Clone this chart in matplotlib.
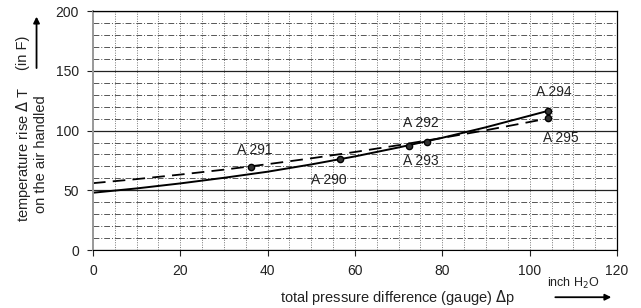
import matplotlib
matplotlib.use("Agg")
import matplotlib.pyplot as plt
from matplotlib.ticker import MultipleLocator

plt.rcParams['font.family'] = ['Liberation Sans', 'DejaVu Sans']

# measured points (pressure difference, temperature rise)
point_names = ['A 290', 'A 291', 'A 292', 'A 293', 'A 294', 'A 295']
point_dp = [56.5, 36.1, 72.4, 76.4, 104.3, 104.3]
point_dt = [76.0, 69.7, 87.0, 90.6, 116.6, 110.2]

# label positions for the points
label_x = [50.0, 33.0, 71.0, 71.0, 101.5, 103.0]
label_y = [59.0, 84.0, 106.5, 74.5, 132.5, 94.0]

# trend curves
curve_dp = [0, 10, 20, 30, 40, 50, 60, 70, 80, 90, 104.3]
solid_dt = [48.0, 51.6, 55.8, 60.5, 65.6, 71.7, 78.4, 85.9, 94.0, 102.8, 116.6]
dashed_dt = [56.0, 59.4, 63.2, 67.3, 71.9, 76.8, 82.1, 87.8, 93.9, 100.3, 110.2]

fig = plt.figure(figsize=(6.41, 3.08), dpi=100)
ax = fig.add_axes([0.145, 0.188, 0.8176, 0.776])

ax.set_xlim(0, 120)
ax.set_ylim(0, 200)
ax.xaxis.set_major_locator(MultipleLocator(20))
ax.yaxis.set_major_locator(MultipleLocator(50))
ax.xaxis.set_minor_locator(MultipleLocator(5))
ax.yaxis.set_minor_locator(MultipleLocator(10))

# grid: solid every 50, dash-dot every 10, dotted verticals every 5
ax.grid(True, which='major', axis='y', color='#222222', linewidth=0.9)
ax.grid(True, which='minor', axis='y', color='#555555', linewidth=0.7,
        linestyle=(0, (6, 2, 1, 2)))
ax.grid(True, which='both', axis='x', color='#777777', linewidth=0.7,
        linestyle=(0, (1, 1.5)))
ax.set_axisbelow(True)

ax.plot(curve_dp, solid_dt, color='black', linewidth=1.4)
ax.plot(curve_dp, dashed_dt, color='black', linewidth=1.3, linestyle=(0, (7, 4)))
ax.plot(point_dp, point_dt, 'o', color='black', markersize=4.5,
        markerfacecolor='#333333', markeredgecolor='black')

for name, lx, ly in zip(point_names, label_x, label_y):
    ax.text(lx, ly, name, fontsize=10, color='#222222', va='center', ha='left')

for side in ['top', 'right']:
    ax.spines[side].set_linewidth(0.9)
ax.spines['left'].set_color('#999999')
ax.spines['left'].set_linewidth(1.4)
ax.tick_params(which='minor', length=0)
ax.tick_params(which='major', direction='out', length=4, labelsize=10,
               colors='#222222', pad=6)

# axis labels with arrows
fig.text(0.036, 0.5, 'temperature rise $\\Delta$ T', rotation=90, fontsize=10.5,
         ha='center', va='center', color='#222222')
fig.text(0.036, 0.83, '(in F)', rotation=90, fontsize=10.5,
         ha='center', va='center', color='#222222')
fig.text(0.064, 0.5, 'on the air handled', rotation=90, fontsize=10.5,
         ha='center', va='center', color='#222222')
fig.add_artist(matplotlib.patches.FancyArrowPatch(
    (0.057, 0.77), (0.057, 0.955), transform=fig.transFigure,
    arrowstyle='-|>', mutation_scale=9, color='black', linewidth=1.3))

fig.text(0.62, 0.033, 'total pressure difference (gauge) $\\Delta$p', fontsize=10.5,
         ha='center', va='center', color='#222222')
fig.text(0.895, 0.08, 'inch H$_2$O', fontsize=9, ha='center', va='center',
         color='#222222')
fig.add_artist(matplotlib.patches.FancyArrowPatch(
    (0.862, 0.035), (0.958, 0.035), transform=fig.transFigure,
    arrowstyle='-|>', mutation_scale=9, color='black', linewidth=1.3))

fig.savefig('out.png', dpi=100)
